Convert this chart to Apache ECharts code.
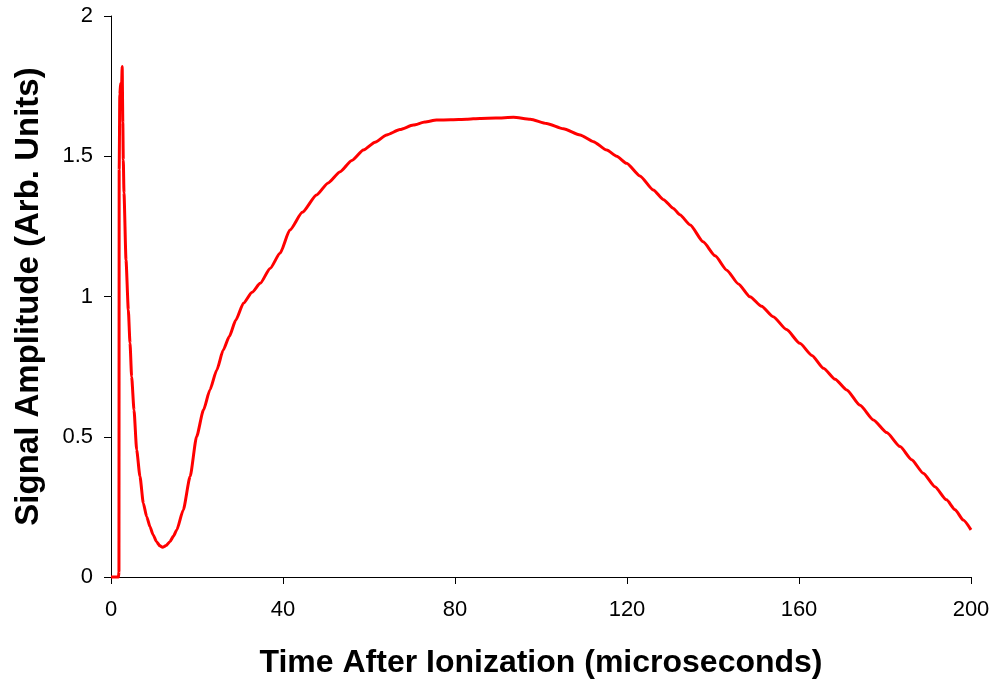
<!DOCTYPE html>
<html>
<head>
<meta charset="utf-8">
<script src="https://cdn.jsdelivr.net/npm/echarts@6/dist/echarts.min.js"></script>
<style>html,body{margin:0;padding:0;background:#fff;}#c{width:998px;height:681px;}</style>
</head>
<body>
<div id="c"></div>
<script>
var timeUs = [0, 1.0, 1.75, 1.85, 1.9, 2.05, 2.25, 2.4, 2.6, 2.75, 2.86, 3.02, 3.49, 4.03, 4.42, 4.8, 5.35, 5.97, 6.74, 7.52, 8.3, 9.07, 9.8, 10.6, 11.3, 12.0, 12.8, 13.7, 14.5, 15.3, 16.8, 18.4, 19.9, 21.5, 23.0, 24.6, 26.1, 27.5, 29.0, 30.8, 32.8, 34.7, 37.0, 39.3, 41.6, 44.5, 47.8, 50.5, 53.3, 56.0, 58.7, 61.4, 64.1, 67.2, 70.3, 73.0, 75.7, 79.0, 82.7, 85.8, 89.5, 93.6, 97.5, 101.3, 105.2, 109.1, 112.2, 115.3, 117.6, 119.9, 123.0, 126.1, 128.5, 130.8, 132.3, 134.7, 137.7, 140.5, 143.2, 145.9, 148.6, 151.3, 154.0, 157.1, 160.2, 163.0, 165.7, 168.4, 171.1, 174.2, 177.3, 180.4, 183.5, 186.2, 188.9, 191.6, 194.3, 196.3, 198.2, 200.0];
var amplitude = [0, 0, 0, 0.02, 1.45, 1.72, 1.76, 1.71, 1.82, 1.62, 1.487, 1.369, 1.13, 0.952, 0.834, 0.714, 0.595, 0.453, 0.358, 0.263, 0.215, 0.179, 0.15, 0.126, 0.112, 0.106, 0.112, 0.126, 0.145, 0.168, 0.239, 0.358, 0.500, 0.595, 0.667, 0.738, 0.809, 0.857, 0.915, 0.976, 1.015, 1.047, 1.10, 1.154, 1.237, 1.30, 1.362, 1.405, 1.445, 1.485, 1.522, 1.55, 1.576, 1.595, 1.611, 1.622, 1.629, 1.630, 1.632, 1.635, 1.636, 1.639, 1.632, 1.617, 1.598, 1.576, 1.552, 1.522, 1.500, 1.475, 1.43, 1.380, 1.345, 1.314, 1.291, 1.255, 1.195, 1.145, 1.094, 1.045, 0.999, 0.965, 0.928, 0.882, 0.833, 0.790, 0.744, 0.705, 0.667, 0.612, 0.560, 0.515, 0.465, 0.418, 0.370, 0.322, 0.275, 0.24, 0.203, 0.168];
var xTicks = [0, 40, 80, 120, 160, 200];
var yTicks = [0, 0.5, 1, 1.5, 2];

var chart = echarts.init(document.getElementById('c'), null, {renderer: 'canvas'});
var data = timeUs.map(function (t, i) { return [t, amplitude[i]]; });
var font = 'Arial, "Liberation Sans", sans-serif';
chart.setOption({
  animation: false,
  backgroundColor: '#ffffff',
  grid: {left: 111, right: 27, top: 16, bottom: 104, containLabel: false, outerBoundsMode: 'none'},
  xAxis: {
    type: 'value', min: xTicks[0], max: xTicks[xTicks.length - 1], interval: 40,
    name: 'Time After Ionization (microseconds)', nameLocation: 'middle', nameGap: 70,
    nameTextStyle: {fontFamily: font, fontWeight: 'bold', fontSize: 32, color: '#000'},
    axisLine: {show: true, onZero: false, lineStyle: {color: '#000', width: 1}},
    axisTick: {show: true, inside: false, length: 7, lineStyle: {color: '#000'}},
    axisLabel: {fontFamily: font, fontSize: 22, color: '#000', margin: 22},
    splitLine: {show: false}
  },
  yAxis: {
    type: 'value', min: yTicks[0], max: yTicks[yTicks.length - 1], interval: 0.5,
    name: 'Signal Amplitude (Arb. Units)', nameLocation: 'middle', nameGap: 66,
    nameTextStyle: {fontFamily: font, fontWeight: 'bold', fontSize: 33, color: '#000'},
    axisLine: {show: true, lineStyle: {color: '#000', width: 1}},
    axisTick: {show: true, inside: false, length: 7, lineStyle: {color: '#000'}},
    axisLabel: {fontFamily: font, fontSize: 22, color: '#000', margin: 18},
    splitLine: {show: false}
  },
  series: [{
    type: 'line', data: data, showSymbol: false, smooth: 0.2, smoothMonotone: 'x',
    lineStyle: {color: '#ff0000', width: 3}, clip: false
  }]
});
</script>
</body>
</html>
